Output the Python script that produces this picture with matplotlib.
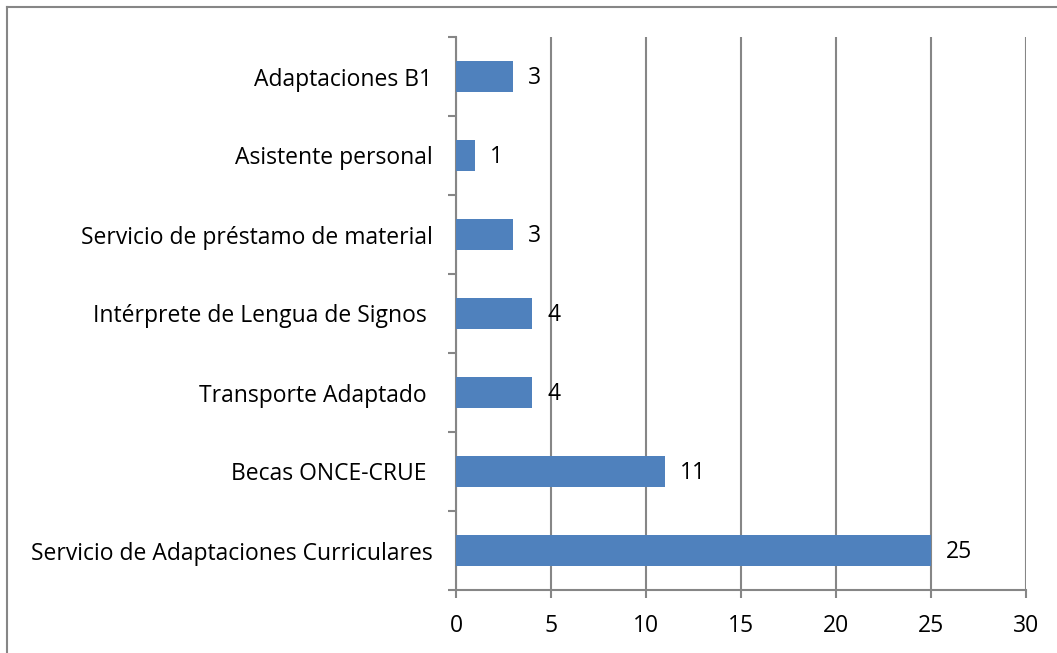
import matplotlib.pyplot as plt
from matplotlib.lines import Line2D
import numpy as np

# Data (bottom to top)
categories = ['Servicio de Adaptaciones Curriculares', 'Becas ONCE-CRUE ', 'Transporte Adaptado ',
              'Intérprete de Lengua de Signos ', 'Servicio de préstamo de material',
              'Asistente personal', 'Adaptaciones B1']
values = [25, 11, 4, 4, 3, 1, 3]
x_ticks = [0, 5, 10, 15, 20, 25, 30]

plt.rcParams['font.family'] = ['Open Sans', 'DejaVu Sans']
grid_color = '#868686'
fs = 16.5

fig = plt.figure(figsize=(10.57, 6.53), dpi=100)
ax = fig.add_axes([456 / 1057, 1 - 590 / 653, (1026 - 456) / 1057, (590 - 37) / 653])

y = np.arange(len(categories))
ax.barh(y, values, height=0.4, color='#4F81BD', zorder=3)
for yi, v in zip(y, values):
    ax.text(v + 0.8, yi - 0.02, str(v), va='center', ha='left', fontsize=fs)

ax.set_xlim(0, 30)
ax.set_ylim(-0.5, len(categories) - 0.5)
ax.set_xticks(x_ticks)
ax.set_xticklabels([str(t) for t in x_ticks], fontsize=fs)
ax.xaxis.grid(True, color=grid_color, linewidth=1.5, zorder=0)

# category labels between boundary ticks
ax.set_yticks(np.arange(-0.5, len(categories), 1.0))
ax.set_yticklabels([])
ax.set_yticks(y, minor=True)
ax.set_yticklabels(categories, minor=True, fontsize=fs)
ax.tick_params(axis='y', which='minor', length=0, pad=17)
ax.tick_params(axis='y', which='major', length=6, width=1.5, color=grid_color)
ax.tick_params(axis='x', length=6, width=1.5, color=grid_color, pad=11)

for s in ['top', 'right']:
    ax.spines[s].set_visible(False)
for s in ['left', 'bottom']:
    ax.spines[s].set_color(grid_color)
    ax.spines[s].set_linewidth(1.5)

# outer border (top and left visible)
fig.add_artist(Line2D([7 / 1057, 1], [1 - 7 / 653, 1 - 7 / 653], color=grid_color, linewidth=1.5))
fig.add_artist(Line2D([7 / 1057, 7 / 1057], [0, 1 - 7 / 653], color=grid_color, linewidth=1.5))

fig.savefig('out.png', dpi=100)
